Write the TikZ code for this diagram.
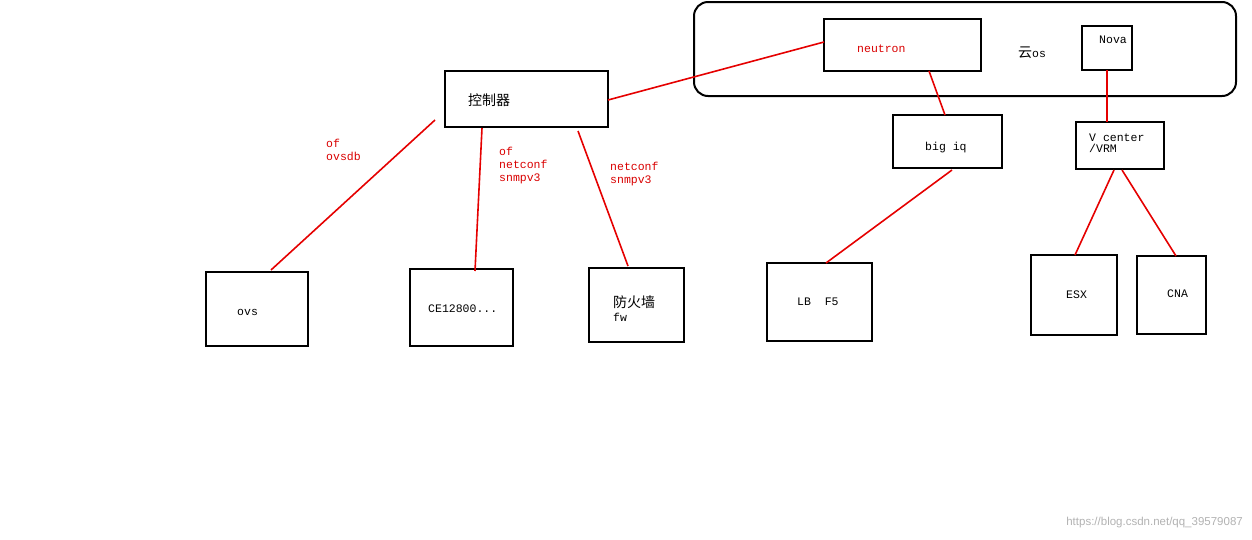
\documentclass[tikz,border=0pt]{standalone}
\usepackage{fontspec}
\setmainfont{Liberation Mono}
\newfontfamily\cjk{Noto Sans CJK SC}
\newfontfamily\wm{Liberation Sans}
\newcommand{\zh}[1]{{\cjk\fontsize{14}{14}\selectfont #1}}
\begin{document}
\begin{tikzpicture}[x=1pt,y=-1pt,
  bx/.style={draw=black,line width=2pt},
  rl/.style={draw=red!90!black,line width=1.6pt},
  lb/.style={font=\fontsize{11.5}{13}\selectfont,anchor=north west,inner sep=0pt,align=left},
  rlb/.style={lb,text=red!85!black}]
\useasboundingbox (0,0) rectangle (1252,539);
\draw[bx,rounded corners=14pt] (694,2) rectangle (1236,96);
\draw[bx] (824,19) rectangle (981,71);
\draw[bx] (1082,26) rectangle (1132,70);
\draw[bx] (445,71) rectangle (608,127);
\draw[bx] (893,115) rectangle (1002,168);
\draw[bx] (1076,122) rectangle (1164,169);
\draw[bx] (206,272) rectangle (308,346);
\draw[bx] (410,269) rectangle (513,346);
\draw[bx] (589,268) rectangle (684,342);
\draw[bx] (767,263) rectangle (872,341);
\draw[bx] (1031,255) rectangle (1117,335);
\draw[bx] (1137,256) rectangle (1206,334);
\node[rlb] (neu) at (857,45) {neutron};
\node[lb] (yun) at (1018,47) {\zh{云}os};
\node[lb] (nova) at (1099,36) {Nova};
\node[lb] (ctl) at (468,94) {\zh{控制器}};
\node[lb] (big) at (925,142) {big iq};
\node[lb,font=\fontsize{11.5}{11}\selectfont] (vc) at (1089,134) {V center\\/VRM};
\node[lb] (ovs) at (237,309) {ovs};
\node[lb] (ce) at (428,305) {CE12800...};
\node[lb] (fw) at (613,296) {\zh{防火墙}\\[1pt]fw};
\node[lb] (lbf) at (797,298) {LB\ \ F5};
\node[lb] (esx) at (1066,291) {ESX};
\node[lb] (cna) at (1167,290) {CNA};
\node[rlb] (l1) at (326,139) {of\\ovsdb};
\node[rlb] (l2) at (499,147) {of\\netconf\\snmpv3};
\node[rlb] (l3) at (610,162) {netconf\\snmpv3};
\node[anchor=south east,inner sep=0pt,text=gray!60,font=\wm\fontsize{11.5}{12}\selectfont] (wmk) at (1243,528) {https://blog.csdn.net/qq\_39579087};
\coordinate (a1) at (608,100); \coordinate (a2) at (824,42);
\coordinate (b1) at (435,120); \coordinate (b2) at (271,270);
\coordinate (c1) at (482,128); \coordinate (c2) at (475,271);
\coordinate (d1) at (578,131); \coordinate (d2) at (628,266);
\coordinate (e1) at (929,71); \coordinate (e2) at (945,115);
\coordinate (f1) at (952,170); \coordinate (f2) at (826,263);
\coordinate (g1) at (1107,70); \coordinate (g2) at (1107,122);
\coordinate (h1) at (1114,170); \coordinate (h2) at (1075,255);
\coordinate (i1) at (1122,170); \coordinate (i2) at (1176,256);
\foreach \p in {a,b,c,d,e,f,g,h,i} \draw[rl] (\p1) -- (\p2);
\end{tikzpicture}
\end{document}
